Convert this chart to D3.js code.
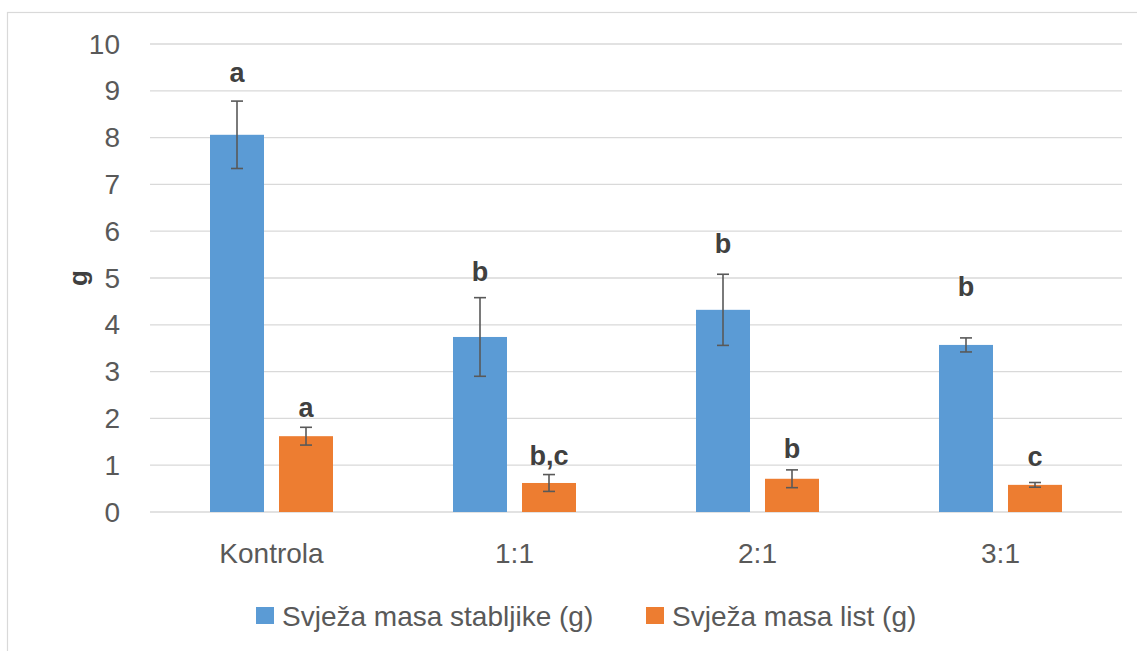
<!DOCTYPE html>
<html><head><meta charset="utf-8">
<script src="https://cdn.jsdelivr.net/npm/d3@7"></script>
<style>
body{margin:0;background:#fff;}
text{font-family:"Liberation Sans",Arial,sans-serif;}
</style></head>
<body><svg id="chart"></svg>
<script>
'use strict';
// data
const categories=['Kontrola','1:1','2:1','3:1'];
const seriesNames=['Svježa masa stabljike (g)','Svježa masa list (g)'];
const stem=[8.06,3.74,4.32,3.57];
const stemErr=[0.72,0.84,0.76,0.15];
const leaf=[1.62,0.62,0.71,0.58];
const leafErr=[0.19,0.18,0.19,0.05];
const stemLetters=['a','b','b','b'];
const leafLetters=['a','b,c','b','c'];
const stemLetterAt=[9.38,5.13,5.73,4.81];   // manual label positions (y units)
const leafLetterAt=[2.22,1.20,1.35,1.18];
const yTicks=[0,1,2,3,4,5,6,7,8,9,10];
const colors=['#5b9bd5','#ed7d31'];

const W=1137,H=651;
const m={top:44,right:15,bottom:139,left:150}, w=W-m.left-m.right, h=H-m.top-m.bottom;
const svg=d3.select('#chart').attr('width',W).attr('height',H);

// outer chart border (cropped at right / bottom)
svg.append('rect').attr('x',7.5).attr('y',12.5).attr('width',W+10).attr('height',H+10)
  .attr('fill','none').attr('stroke','#d9d9d9').attr('stroke-width',1.2);

const g=svg.append('g').attr('transform',`translate(${m.left},${m.top})`);
const x=d3.scaleBand().domain(categories).range([0,w]);
// 54px bars with a 15px gap, centred in each 243px band
const xs=d3.scaleBand().domain([0,1]).range([0,x.bandwidth()]).paddingInner(15/69).paddingOuter(0.8696);
const y=d3.scaleLinear().domain([0,10]).range([h,0]);

// gridlines + y labels
g.selectAll('.grid').data(yTicks).join('line').attr('class','grid')
  .attr('x1',0).attr('x2',w).attr('y1',d=>y(d)).attr('y2',d=>y(d))
  .attr('stroke','#d9d9d9').attr('stroke-width',1.3);
g.selectAll('.ytl').data(yTicks).join('text').attr('class','ytl')
  .attr('x',-30).attr('y',d=>y(d)).attr('text-anchor','end').attr('dominant-baseline','central')
  .attr('fill','#595959').style('font-size','28px').text(d=>d);
g.append('text').attr('transform',`translate(${-72},${y(5)}) rotate(-90)`)
  .attr('text-anchor','middle').attr('dominant-baseline','central')
  .attr('fill','#404040').style('font-size','26px').style('font-weight','bold').text('g');

const rows=categories.map((c,i)=>({c,vals:[
  {s:0,v:stem[i],e:stemErr[i],l:stemLetters[i],ly:stemLetterAt[i]},
  {s:1,v:leaf[i],e:leafErr[i],l:leafLetters[i],ly:leafLetterAt[i]}]}));

const grp=g.selectAll('.cat').data(rows).join('g').attr('class','cat')
  .attr('transform',d=>`translate(${x(d.c)},0)`);
const bars=grp.selectAll('.b').data(d=>d.vals).join('g').attr('class','b');
bars.append('rect').attr('x',d=>xs(d.s)).attr('width',xs.bandwidth())
  .attr('y',d=>y(d.v)).attr('height',d=>h-y(d.v)).attr('fill',d=>colors[d.s]);
const cx=d=>xs(d.s)+xs.bandwidth()/2;
bars.append('line').attr('x1',cx).attr('x2',cx).attr('y1',d=>y(d.v+d.e)).attr('y2',d=>y(d.v-d.e))
  .attr('stroke','#595959').attr('stroke-width',1.6);
[1,-1].forEach(sg=>bars.append('line').attr('x1',d=>cx(d)-6).attr('x2',d=>cx(d)+6)
  .attr('y1',d=>y(d.v+sg*d.e)).attr('y2',d=>y(d.v+sg*d.e)).attr('stroke','#595959').attr('stroke-width',1.6));
bars.append('text').attr('x',cx).attr('y',d=>y(d.ly)).attr('text-anchor','middle').attr('dominant-baseline','central')
  .attr('fill','#404040').style('font-size','27px').style('font-weight','bold').text(d=>d.l);

// x labels
g.selectAll('.xtl').data(categories).join('text').attr('class','xtl')
  .attr('x',d=>x(d)+x.bandwidth()/2).attr('y',h+41).attr('text-anchor','middle')
  .attr('dominant-baseline','central').attr('fill','#595959').style('font-size','28px').text(d=>d);

// legend
const lg=svg.append('g');
const lx=[256,646];
seriesNames.forEach((n,i)=>{
  lg.append('rect').attr('x',lx[i]).attr('y',607).attr('width',18).attr('height',17).attr('fill',colors[i]);
  lg.append('text').attr('x',lx[i]+26).attr('y',616).attr('dominant-baseline','central')
    .attr('fill','#595959').style('font-size','28px').text(n);
});
</script></body></html>
